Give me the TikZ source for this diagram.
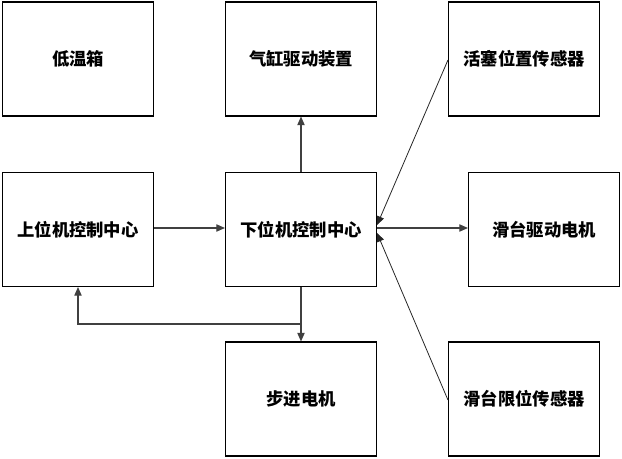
\documentclass[tikz,border=0pt]{standalone}
\usepackage{fontspec}
\newfontfamily\cjk{Noto Sans CJK SC}
\usetikzlibrary{arrows.meta}
\begin{document}
\begin{tikzpicture}[x=0.75pt,y=-0.75pt,
  blk/.style={draw=black,line width=0.8pt,minimum width=113.25pt,minimum height=85.5pt,inner sep=0pt,font=\cjk\bfseries\fontsize{13}{15}\selectfont},
  con/.style={draw=black!75,line width=0.8pt,-{Triangle[length=6.5pt,width=5.5pt]}},
  thin/.style={draw=black!85,line width=0.6pt,-{Triangle[length=6.5pt,width=5.5pt]}}]
\useasboundingbox (0,0) rectangle (622,458);
\node[blk] (dwx) at (78,59) {低温箱};
\node[blk] (qg) at (301,59) {气缸驱动装置};
\node[blk] (hs) at (524,59) {活塞位置传感器};
\node[blk] (swj) at (78,229.5) {上位机控制中心};
\node[blk] (xwj) at (301,229.5) {下位机控制中心};
\node[blk] (htqd) at (544,229.5) {滑台驱动电机};
\node[blk] (bj) at (301,399) {步进电机};
\node[blk] (htxw) at (524,399) {滑台限位传感器};
\coordinate (br) at (301,324);
\coordinate (bl) at (78,324);
\draw[con] (swj.east |- 0,228) -- (xwj.west |- 0,228);
\draw[con] (xwj.north) -- (qg.south);
\draw[con] (xwj.east |- 0,228) -- (htqd.west |- 0,228);
\draw[thin] (hs.west |- 0,60) -- (xwj.east |- 0,225);
\draw[thin] (htxw.west |- 0,400) -- (xwj.east |- 0,233);
\draw[con] (xwj.south) -- (bj.north);
\draw[con] (br) -- (bl) -- (swj.south);
\end{tikzpicture}
\end{document}
